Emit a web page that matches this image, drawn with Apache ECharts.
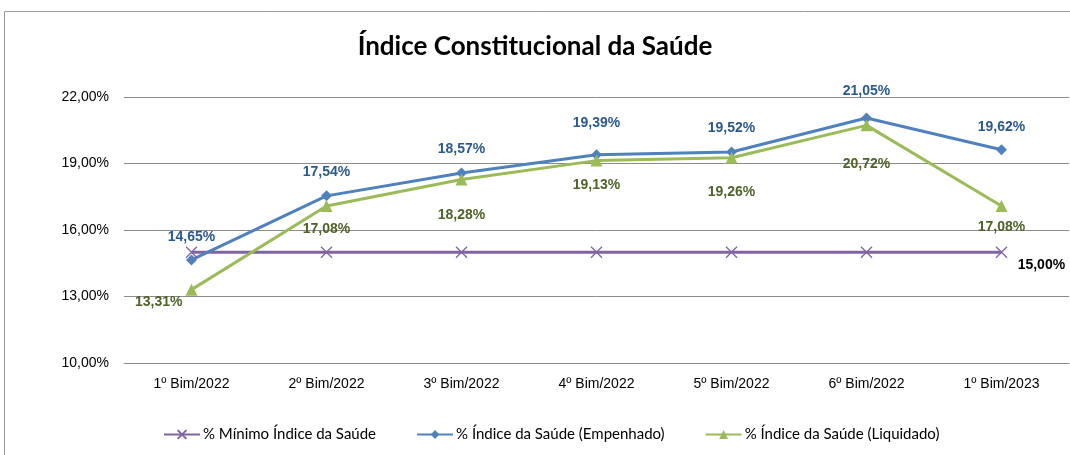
<!DOCTYPE html>
<html>
<head>
<meta charset="utf-8">
<script src="https://cdn.jsdelivr.net/npm/echarts@6/dist/echarts.min.js"></script>
<style>
  html, body { margin: 0; padding: 0; background: #fff; }
  #chart { width: 1070px; height: 455px; }
</style>
</head>
<body>
<div id="chart"></div>
<script>
const categories = ['1º Bim/2022', '2º Bim/2022', '3º Bim/2022', '4º Bim/2022', '5º Bim/2022', '6º Bim/2022', '1º Bim/2023'];
const minimo = [15, 15, 15, 15, 15, 15, 15];
const empenhado = [14.65, 17.54, 18.57, 19.39, 19.52, 21.05, 19.62];
const liquidado = [13.31, 17.08, 18.28, 19.13, 19.26, 20.72, 17.08];

// label spacing per point (style only)
const empGap = [10, 11, 11, 19, 11, 14, 10];
const liqGap = [0, 10, 23, 12, 21, 26, 8];

const pct = v => v.toFixed(2).replace('.', ',') + '%';
const FONT = 'Liberation Sans';
const NARROW = 'Lato';

const chart = echarts.init(document.getElementById('chart'));

chart.setOption({
    animation: false,
    title: {
        text: 'Índice Constitucional da Saúde',
        left: 'center',
        top: 29,
        textStyle: {fontFamily: NARROW, fontWeight: 'bold', fontSize: 26, color: '#000'}
    },
    graphic: [{
        type: 'rect',
        shape: {x: 4.5, y: 11.5, width: 1100, height: 500},
        style: {fill: 'none', stroke: '#9a9a9a', lineWidth: 1},
        silent: true
    }],
    grid: {left: 124, right: 1, top: 97, bottom: 92},
    legend: {
        bottom: 8,
        left: 158,
        itemWidth: 36,
        itemHeight: 11,
        itemGap: 40,
        textStyle: {fontFamily: NARROW, fontSize: 15, color: '#000', padding: [0, 0, 0, -2]},
        data: ['% Mínimo Índice da Saúde', '% Índice da Saúde (Empenhado)', '% Índice da Saúde (Liquidado)']
    },
    xAxis: {
        type: 'category',
        data: categories,
        axisLine: {lineStyle: {color: '#8c8c8c'}},
        axisTick: {show: false},
        axisLabel: {fontFamily: FONT, fontSize: 14, color: '#000', margin: 14}
    },
    yAxis: {
        type: 'value',
        min: 10,
        max: 22,
        interval: 3,
        axisLine: {show: false},
        axisTick: {show: false},
        splitLine: {lineStyle: {color: '#8c8c8c'}},
        axisLabel: {fontFamily: FONT, fontSize: 14, color: '#000', margin: 15, formatter: pct}
    },
    series: [{
        name: '% Mínimo Índice da Saúde',
        type: 'line',
        data: minimo.map((v, i) => ({
            value: v,
            label: {show: i === minimo.length - 1}
        })),
        symbol: 'path://M0,0 L10,10 M10,0 L0,10',
        symbolSize: 11,
        lineStyle: {color: '#8064a2', width: 3},
        itemStyle: {color: '#8064a2', borderColor: '#8064a2', borderWidth: 1.3},
        label: {
            position: 'right', distance: 10, offset: [0, 13],
            fontFamily: FONT, fontWeight: 'bold', fontSize: 14, color: '#000',
            formatter: p => pct(p.value)
        }
    }, {
        name: '% Índice da Saúde (Empenhado)',
        type: 'line',
        data: empenhado.map((v, i) => ({
            value: v,
            label: {distance: empGap[i]}
        })),
        symbol: 'diamond',
        symbolSize: 11,
        lineStyle: {color: '#4f81bd', width: 3},
        itemStyle: {color: '#4f81bd'},
        label: {
            show: true, position: 'top',
            fontFamily: FONT, fontWeight: 'bold', fontSize: 14, color: '#2a5a8c',
            formatter: p => pct(p.value)
        }
    }, {
        name: '% Índice da Saúde (Liquidado)',
        type: 'line',
        data: liquidado.map((v, i) => (i === 0 ? {
            value: v,
            label: {position: 'left', distance: 3, offset: [0, 13]}
        } : {
            value: v,
            label: {distance: liqGap[i]}
        })),
        symbol: 'triangle',
        symbolSize: 12,
        lineStyle: {color: '#9bbb59', width: 3},
        itemStyle: {color: '#9bbb59'},
        label: {
            show: true, position: 'bottom',
            fontFamily: FONT, fontWeight: 'bold', fontSize: 14, color: '#4f6228',
            formatter: p => pct(p.value)
        }
    }]
});
</script>
</body>
</html>
